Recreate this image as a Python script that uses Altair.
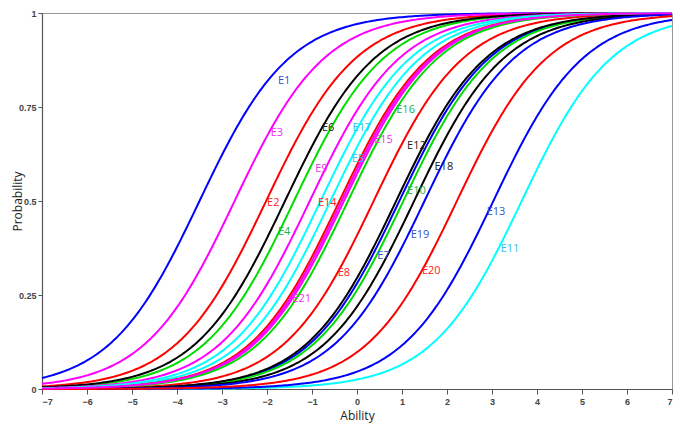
import altair as alt
import numpy as np
import pandas as pd

items = [f"E{i}" for i in range(1, 22)]
# item difficulty (ability where P = 0.5)
difficulty = [-3.50, -2.02, -2.72, -1.40, -0.59, -1.60, 0.94, 0.37, -1.05, 1.03,
              3.66, 0.87, 3.03, -0.39, -0.29, -0.20, -0.81, 1.27, 1.50, 2.22, -0.34]
# label anchor (ability, probability)
label_ability = [-1.62, -1.86, -1.78, -1.62, 0.02, -0.64, 0.59, -0.29, -0.79, 1.32,
                 3.40, 1.32, 3.09, -0.66, 0.59, 1.08, 0.11, 1.93, 1.40, 1.65, -1.23]
label_prob = [0.818, 0.496, 0.680, 0.417, 0.611, 0.693, 0.355, 0.309, 0.586, 0.527,
              0.373, 0.647, 0.471, 0.494, 0.662, 0.742, 0.693, 0.591, 0.409, 0.315, 0.240]

line_cycle = ["#0000ff", "#ff0000", "#ff00ff", "#00dd00", "#00ffff", "#000000"]
text_cycle = ["#3050d0", "#ff2020", "#f030f0", "#20b050", "#30c0f0", "#202020"]
line_colors = [line_cycle[i % 6] for i in range(len(items))]
text_colors = [text_cycle[i % 6] for i in range(len(items))]

x_ticks = list(range(-7, 8))
y_ticks = [0, 0.25, 0.5, 0.75, 1]

grid = np.linspace(-7, 7, 281)
rows = []
for it, b in zip(items, difficulty):
    p = 1.0 / (1.0 + np.exp(-(grid - b)))
    for g, v in zip(grid, p):
        rows.append({"item": it, "ability": float(g), "prob": float(v)})
curves = pd.DataFrame(rows)
labels = pd.DataFrame({"item": items, "ability": label_ability, "prob": label_prob})

xscale = alt.Scale(domain=[-7, 7], nice=False, zero=False)
yscale = alt.Scale(domain=[0, 1], nice=False)

xaxis = alt.Axis(values=x_ticks, grid=False, title="Ability", tickSize=5,
                 labelPadding=3, titlePadding=4)
yaxis = alt.Axis(values=y_ticks, grid=False, title="Probability", format=".2~f",
                 tickSize=4, labelPadding=2, titleX=-25, titleY=188,
                 titleAngle=-90, titleAlign="center", titleBaseline="middle")

lines = alt.Chart(curves).mark_line(strokeWidth=2).encode(
    x=alt.X("ability:Q", scale=xscale, axis=xaxis),
    y=alt.Y("prob:Q", scale=yscale, axis=yaxis),
    color=alt.Color("item:N", scale=alt.Scale(domain=items, range=line_colors), legend=None),
    detail="item:N",
)

text = alt.Chart(labels).mark_text(fontSize=11, font="Open Sans", align="center",
                                    baseline="middle").encode(
    x=alt.X("ability:Q", scale=xscale),
    y=alt.Y("prob:Q", scale=yscale),
    text="item:N",
    color=alt.Color("item:N", scale=alt.Scale(domain=items, range=text_colors), legend=None),
)

chart = (
    alt.layer(lines, text)
    .resolve_scale(color="independent")
    .properties(
        width=630,
        height=376,
        autosize=alt.AutoSizeParams(type="none"),
        padding={"left": 34, "top": 5, "right": 4, "bottom": 39},
        background="white",
    )
    .configure_view(stroke="#999999", strokeWidth=1)
    .configure_axis(
        labelFont="Liberation Sans", labelFontSize=9, labelFontWeight="bold",
        labelColor="#444444", titleFont="Open Sans", titleFontSize=12,
        titleFontWeight="normal", titleColor="#222222",
        domainColor="#555555", tickColor="#555555", domainWidth=1.2,
    )
)

chart.save("out.html", embed_options={"renderer": "svg", "actions": False})
